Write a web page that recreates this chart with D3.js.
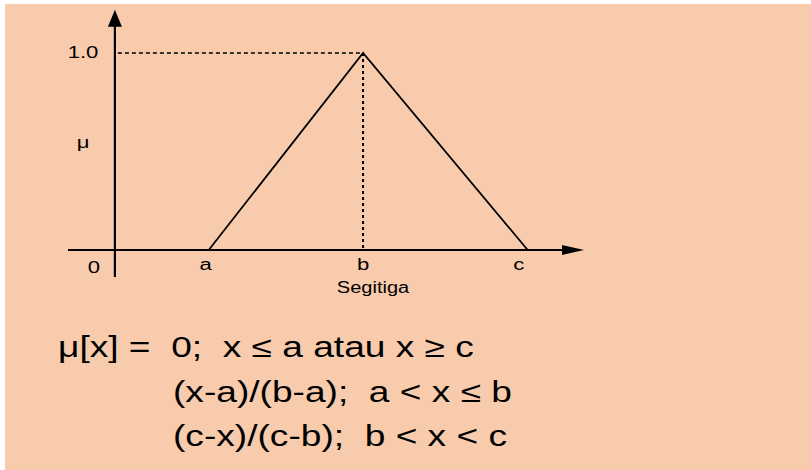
<!DOCTYPE html>
<html>
<head>
<meta charset="utf-8">
<script src="https://cdn.jsdelivr.net/npm/d3@7"></script>
<style>
  body { margin: 0; background: #fff; }
  svg { display: block; }
  text { font-family: "Liberation Sans", Arial, sans-serif; fill: #000; white-space: pre; }
</style>
</head>
<body>
<div id="container"></div>
<script>
// data
const pointNames = ["a", "b", "c"];
const pointX = [2.0, 5.29, 8.8];
const membership = [0, 1, 0];
const yTickLabels = ["0", "1.0"];
const yLabel = "\u03bc";
const xTitle = "Segitiga";
const formulaLines = [
  "\u03bc[x] =  0;  x \u2264 a atau x \u2265 c",
  "(x-a)/(b-a);  a < x \u2264 b",
  "(c-x)/(c-b);  b < x < c"
];

const width = 811, height = 470;

const svg = d3.select("#container").append("svg")
  .attr("width", width).attr("height", height);

svg.append("rect")
  .attr("x", 5).attr("y", 4)
  .attr("width", width - 5).attr("height", height - 4)
  .attr("fill", "#F8CBAD");

const x = d3.scaleLinear().domain([-1, 10]).range([68, 584]);
const y = d3.scaleLinear().domain([0, 1]).range([250, 53]);

// axes
svg.append("line")
  .attr("x1", x(-1)).attr("x2", x(9.6))
  .attr("y1", y(0)).attr("y2", y(0))
  .attr("stroke", "#000").attr("stroke-width", 2);
svg.append("path")
  .attr("d", `M${x(10)},${y(0)} L${x(10) - 22},${y(0) - 5} L${x(10) - 22},${y(0) + 5} Z`)
  .attr("fill", "#000");

svg.append("line")
  .attr("x1", x(0)).attr("x2", x(0))
  .attr("y1", y(-0.137)).attr("y2", y(1.15))
  .attr("stroke", "#000").attr("stroke-width", 2.2);
svg.append("path")
  .attr("d", `M${x(0)},${y(1.22)} L${x(0) - 7},${y(1.22) + 17} L${x(0) + 7},${y(1.22) + 17} Z`)
  .attr("fill", "#000");

// dashed guides to the peak
const peakI = membership.indexOf(1);
svg.append("line")
  .attr("x1", x(0) + 3).attr("x2", x(pointX[peakI]))
  .attr("y1", y(1)).attr("y2", y(1))
  .attr("stroke", "#000").attr("stroke-width", 1.6)
  .attr("stroke-dasharray", "4,3");
svg.append("line")
  .attr("x1", x(pointX[peakI])).attr("x2", x(pointX[peakI]))
  .attr("y1", y(1)).attr("y2", y(0))
  .attr("stroke", "#000").attr("stroke-width", 2)
  .attr("stroke-dasharray", "3,3");

// triangle
const tri = d3.line().x((d, i) => x(pointX[i])).y(d => y(d));
svg.append("path")
  .datum(membership)
  .attr("d", tri)
  .attr("fill", "none")
  .attr("stroke", "#000")
  .attr("stroke-width", 1.8);

// labels
function label(txt, px, py, size, stretch, anchor) {
  svg.append("text")
    .attr("transform", `translate(${px},${py}) scale(${stretch},1)`)
    .attr("text-anchor", anchor || "middle")
    .attr("xml:space", "preserve")
    .style("font-size", size + "px")
    .text(txt);
}

pointNames.forEach((n, i) => label(n, x(pointX[i]) - (i === 0 ? 3 : (i === 2 ? 9 : 0)), 270, 16, 1.38));
label(yTickLabels[0], 94, 273, 16, 1.38);
label(yTickLabels[1], 83, 58, 16, 1.38);
label(yLabel, 83, 148, 16, 1.38);
label(xTitle, 373, 293, 16, 1.25);

const fy = [357, 402, 446];
label(formulaLines[0], 58, fy[0], 29, 1.28, "start");
label(formulaLines[1], 173, fy[1], 29, 1.28, "start");
label(formulaLines[2], 173, fy[2], 29, 1.28, "start");
</script>
</body>
</html>
